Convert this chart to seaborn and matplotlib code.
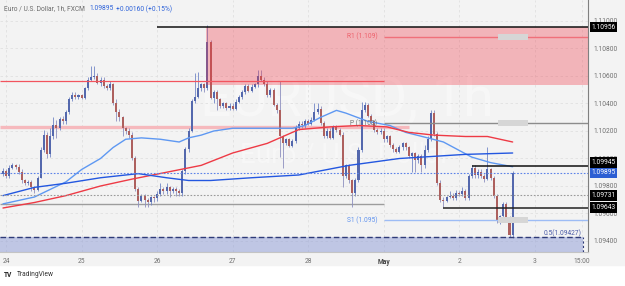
import matplotlib
matplotlib.use("Agg")
import matplotlib.pyplot as plt
import matplotlib.transforms as mtransforms
from matplotlib.patches import Rectangle
import seaborn as sns
import numpy as np
import pandas as pd

# EUR/USD 1h (FXCM), candles, in pips above 1.09000
# candle 0 = 23 Apr 23:00, one candle per hour
opens = [89, 91, 87, 93, 95, 94, 90, 84, 82, 83,
         79, 77, 86, 106, 117, 103, 116, 124, 122, 129,
         127, 134, 143, 146, 145, 146, 144, 151, 157, 159,
         160, 155, 157, 153, 151, 154, 140, 134, 130, 122,
         120, 117, 100, 78, 69, 73, 70, 68, 72, 71,
         74, 78, 76, 79, 76, 78, 76, 75, 91, 107,
         120, 142, 145, 151, 154, 151, 185, 144, 148, 143,
         138, 140, 137, 138, 136, 141, 145, 148, 153, 149,
         152, 154, 160, 157, 154, 146, 150, 139, 135, 116,
         111, 114, 109, 113, 122, 125, 124, 127, 125, 128,
         134, 136, 126, 116, 120, 115, 123, 121, 117, 87,
         95, 84, 75, 84, 106, 135, 139, 131, 127, 121,
         119, 120, 114, 116, 110, 107, 105, 108, 111, 108,
         102, 104, 99, 102, 95, 106, 114, 133, 118, 82,
         70, 69, 72, 73, 71, 75, 74, 76, 71, 87,
         93, 88, 90, 87, 85, 92, 86, 73, 55, 58,
         67, 56, 44]
highs = [93, 92, 95, 97, 96, 96, 92, 85, 84, 84,
         80, 87, 108, 121, 119, 122, 130, 128, 130, 131,
         135, 145, 148, 148, 147, 147, 152, 159, 167, 167,
         162, 159, 159, 154, 156, 155, 143, 136, 131, 123,
         122, 119, 102, 79, 74, 74, 71, 73, 73, 76,
         82, 79, 82, 80, 79, 79, 78, 92, 108, 122,
         143, 162, 163, 155, 155, 197, 186, 150, 150, 144,
         141, 141, 140, 140, 143, 146, 150, 154, 154, 154,
         155, 164, 164, 159, 156, 151, 151, 140, 156, 117,
         115, 115, 114, 124, 127, 127, 129, 129, 130, 140,
         140, 138, 127, 122, 122, 124, 124, 122, 119, 96,
         96, 85, 86, 108, 141, 141, 140, 132, 128, 122,
         122, 122, 117, 117, 111, 108, 110, 112, 112, 109,
         105, 105, 103, 103, 110, 116, 135, 135, 119, 84,
         72, 73, 76, 75, 77, 76, 79, 78, 89, 95,
         95, 92, 92, 89, 108, 93, 87, 74, 59, 68,
         68, 58, 91]
lows = [87, 86, 86, 92, 92, 89, 82, 81, 81, 76,
        75, 76, 86, 105, 100, 101, 114, 115, 121, 125,
        125, 132, 142, 143, 143, 143, 143, 150, 156, 158,
        154, 153, 151, 150, 150, 139, 127, 127, 116, 118,
        115, 99, 76, 65, 68, 65, 65, 66, 68, 69,
        73, 74, 74, 72, 75, 73, 73, 73, 89, 105,
        119, 140, 144, 149, 148, 150, 143, 140, 135, 137,
        137, 135, 135, 135, 135, 140, 143, 147, 148, 148,
        151, 152, 156, 153, 145, 145, 138, 133, 101, 93,
        110, 108, 108, 111, 121, 122, 122, 124, 124, 127,
        132, 124, 115, 115, 114, 114, 119, 116, 79, 86,
        82, 65, 73, 83, 105, 134, 130, 125, 119, 118,
        118, 112, 112, 108, 105, 104, 104, 106, 106, 100,
        90, 90, 97, 90, 93, 105, 113, 116, 81, 68,
        65, 68, 71, 70, 70, 73, 73, 70, 70, 86,
        86, 86, 86, 83, 84, 84, 71, 53, 52, 56,
        55, 43, 42]
closes = [91, 87, 93, 95, 94, 90, 84, 82, 83, 79,
          77, 86, 106, 117, 103, 116, 124, 122, 129, 127,
          134, 143, 146, 145, 146, 144, 151, 157, 159, 160,
          155, 157, 153, 151, 154, 140, 134, 130, 122, 120,
          117, 100, 78, 69, 73, 70, 68, 72, 71, 74,
          78, 76, 79, 76, 78, 76, 75, 91, 107, 120,
          142, 145, 151, 154, 151, 185, 144, 148, 143, 138,
          140, 137, 138, 136, 141, 145, 148, 153, 149, 152,
          154, 160, 157, 154, 146, 150, 139, 135, 116, 111,
          114, 109, 113, 122, 125, 124, 127, 125, 128, 134,
          136, 126, 116, 120, 115, 123, 121, 117, 87, 95,
          84, 75, 84, 106, 135, 139, 131, 127, 121, 119,
          120, 114, 116, 110, 107, 105, 108, 111, 108, 102,
          104, 99, 102, 95, 106, 114, 133, 118, 82, 70,
          69, 72, 73, 71, 75, 74, 76, 71, 87, 93,
          88, 90, 87, 85, 92, 86, 73, 55, 58, 67,
          56, 44, 89.5]

# moving averages, read at a few candles (candle index, pips above 1.09000)
fast_idx = [0, 10, 20, 25, 31, 35, 39, 44, 50, 56, 59, 63, 67, 73, 84, 92, 96, 101,
            106, 109, 116, 123, 128, 135, 140, 149, 155, 162]
fast_ma = [67, 72, 83, 92, 100, 108, 114, 115, 114, 112, 115, 117, 120, 122, 122, 122,
           124, 130, 135, 133, 127, 124, 119, 115, 112, 101, 97, 94]
mid_idx = [0, 10, 20, 31, 41, 52, 63, 73, 84, 94, 104, 113, 122, 129, 137, 147, 154, 162]
mid_ma = [64, 68, 73, 80, 85, 90, 95, 104, 111, 121, 123, 124, 123, 119, 117, 116, 116, 112]
slow_idx = [0, 10, 20, 31, 43, 52, 59, 66, 79, 94, 110, 126, 147, 162]
slow_ma = [73, 79, 82, 86, 89, 86, 84, 84, 86, 88, 95, 100, 103, 104]

day_ticks = [1, 25, 49, 73, 97, 121, 145, 169, 184]
day_labels = ["24", "25", "26", "27", "28", "May", "2", "3", "15:00"]
price_ticks = [1.094, 1.096, 1.098, 1.100, 1.102, 1.104, 1.106, 1.108, 1.110]

# drawn levels
res_top, res_bottom = 1.10956, 1.10535
r1, pivot, s1 = 1.10885, 1.10258, 1.09553
red_left, pink_left, grey_left = 1.10566, 1.10229, 1.09667
res_black, high_black, last_price, dotted_grey, low_black = 1.10956, 1.09945, 1.09895, 1.09731, 1.09643
fib_half = 1.09427
axis_labels = [("1.10956", res_black, "black", 0),
               ("1.09945", high_black, "black", 2.5),
               ("1.09895", last_price, "#2d5fd3", 0),
               ("1.09731", dotted_grey, "black", 0),
               ("1.09643", low_black, "black", 0)]


def to_price(p):
    return 1.09 + np.asarray(p, dtype=float) / 10000


sns.set_theme(style="white")
plt.rcParams["font.family"] = ["Roboto", "DejaVu Sans"]

BG = "#f3f3f3"
BULL, BEAR = "#5468ad", "#ad605e"
WICK_UP, WICK_DN = "#7186c6", "#8d8fbf"
FS = 4.8

fig = plt.figure(figsize=(6.25, 2.86), dpi=100, facecolor="white")
fig.patches.append(Rectangle((0, 21 / 286), 1, 265 / 286, transform=fig.transFigure,
                             color=BG, zorder=-5))
ax = fig.add_axes([0, 34 / 286, 588 / 625, 252 / 286])
ax.set_facecolor(BG)

xmin, xmax = -0.95, 185.95
ymin, ymax = 1.09320, 1.111527

# watermark
ax.text(347 / 588, 1 - 100 / 252, "EURUSD, 1h", transform=ax.transAxes, fontsize=40,
        color="white", alpha=0.35, ha="center", va="center", zorder=0.5)
ax.text(345 / 588, 1 - 155 / 252, "Euro / U.S. Dollar", transform=ax.transAxes, fontsize=20,
        color="white", alpha=0.35, ha="center", va="center", zorder=0.5)

# candles
df = pd.DataFrame({"open": to_price(opens), "high": to_price(highs),
                   "low": to_price(lows), "close": to_price(closes)})
df["i"] = np.arange(len(df))
up = df["close"] >= df["open"]
ax.vlines(df["i"], df["low"], df["high"], colors=np.where(up, WICK_UP, WICK_DN),
          lw=0.6, zorder=3)
for mask, col in [(up, BULL), (~up, BEAR)]:
    d = df[mask]
    h = np.maximum((d["close"] - d["open"]).abs(), 0.00004)
    ax.bar(d["i"], h, bottom=np.minimum(d["open"], d["close"]), width=0.64,
           color=col, linewidth=0, zorder=4)

# moving averages
ma = pd.concat([
    pd.DataFrame({"i": fast_idx, "v": to_price(fast_ma), "ma": "fast"}),
    pd.DataFrame({"i": mid_idx, "v": to_price(mid_ma), "ma": "mid"}),
    pd.DataFrame({"i": slow_idx, "v": to_price(slow_ma), "ma": "slow"}),
])
sns.lineplot(data=ma, x="i", y="v", hue="ma", legend=False, ax=ax, linewidth=1.0,
             palette={"fast": "#5e98f2", "mid": "#ee3a45", "slow": "#2357e0"}, zorder=5)

# resistance zone and levels
ax.add_patch(Rectangle((64.5, res_bottom), xmax - 64.5, res_top - res_bottom,
                       facecolor="#f23645", alpha=0.33, linewidth=0, zorder=6))
ax.hlines(res_black, 49, xmax, color="#111111", lw=1.1, zorder=7)
ax.hlines(r1, 121, xmax, color="#f0707a", lw=1.0, zorder=7)
ax.hlines(red_left, xmin, 121, color="#f2545e", lw=0.9, zorder=7)
ax.hlines(pink_left, xmin, 129, color="#f6b9bd", lw=2.4, zorder=2)
ax.hlines(pivot, 121, xmax, color="#8c8c8c", lw=1.0, zorder=7)
ax.hlines(grey_left, xmin, 121, color="#9d9d9d", lw=1.0, zorder=2)
ax.hlines(s1, 121, xmax, color="#9dbcf5", lw=1.0, zorder=7)
ax.hlines(last_price, xmin, xmax, color="#5b82e8", lw=0.8, ls=(0, (1.5, 1.5)), zorder=7)
ax.hlines(dotted_grey, xmin, xmax, color="#9a9a9a", lw=0.8, ls=(0, (1.5, 1.5)), zorder=7)
ax.hlines(high_black, 149, xmax, color="#111111", lw=1.1, zorder=7)
ax.hlines(low_black, 140, xmax, color="#222222", lw=1.1, zorder=7)

ax.text(119, r1, "R1 (1.109)", color="#ee5f6a", fontsize=FS, ha="right", va="center", zorder=8)
ax.text(119, pivot, "P (1.103)", color="#707070", fontsize=FS, ha="right", va="center", zorder=8)
ax.text(119, s1, "S1 (1.095)", color="#5f92ef", fontsize=FS, ha="right", va="center", zorder=8)
for lvl in (r1, pivot, s1):
    ax.add_patch(Rectangle((157.5, lvl - 0.00022), 9.5, 0.00044, facecolor="#d6d6d6",
                           edgecolor="none", zorder=8))

# fib area at the bottom
ax.add_patch(Rectangle((xmin, ymin), 184.5 - xmin, fib_half - ymin, facecolor="#8c9ad6",
                       alpha=0.5, linewidth=0, zorder=6))
ax.hlines(fib_half, xmin, 184.5, color="#2f3b78", lw=1.0, ls=(0, (4, 2)), zorder=7)
ax.vlines(184.5, ymin, fib_half, color="#2f3b78", lw=0.8, ls=(0, (2, 2)), zorder=7)
ax.text(183.8, fib_half + 0.00003, "0.5(1.09427)", color="#4a5aa8", fontsize=FS,
        ha="right", va="bottom", zorder=8)

# axes
ax.set_xlim(xmin, xmax)
ax.set_ylim(ymin, ymax)
ax.set_xticks(day_ticks)
ax.set_xticklabels(day_labels)
ax.yaxis.tick_right()
ax.set_yticks(price_ticks)
ax.set_yticklabels([f"{p:.5f}" for p in price_ticks])
ax.tick_params(axis="both", length=0, labelsize=FS, labelcolor="#707070")
ax.tick_params(axis="y", pad=4)
ax.tick_params(axis="x", pad=4)
for lbl in ax.get_xticklabels():
    if lbl.get_text() == "May":
        lbl.set_fontweight("bold")
        lbl.set_color("#444444")
ax.grid(True, color="#e0e0e0", lw=0.6, ls=(0, (3, 3)))
ax.set_axisbelow(True)
for s in ["left", "top"]:
    ax.spines[s].set_visible(False)
ax.spines["right"].set_color("#808080")
ax.spines["right"].set_linewidth(0.8)
ax.spines["bottom"].set_color("#c4c4c4")
ax.spines["bottom"].set_linewidth(0.8)
ax.set_xlabel("")
ax.set_ylabel("")

trans = mtransforms.blended_transform_factory(ax.transAxes, ax.transData)
for text, val, col, dy in axis_labels:
    t = mtransforms.offset_copy(trans, fig=fig, x=0, y=dy, units="points")
    ax.text(1.006, val, text, transform=t, color="white", fontsize=FS, va="center",
            ha="left", clip_on=False, zorder=20,
            bbox=dict(boxstyle="square,pad=0.25", fc=col, ec="none"))

# header and footer
fig.text(4 / 625, 1 - 9 / 286, "Euro / U.S. Dollar, 1h, FXCM", fontsize=FS,
         color="#6a6a6a", va="center")
fig.text(89 / 625, 1 - 9 / 286, "1.09895", fontsize=FS, color="#2d62d9", va="center")
fig.text(116 / 625, 1 - 9 / 286, "+0.00160 (+0.15%)", fontsize=FS, color="#2d62d9",
         va="center")
fig.text(4 / 625, 11 / 286, "TV", fontsize=FS, color="#222222", fontweight="bold",
         va="center")
fig.text(17 / 625, 11 / 286, "TradingView", fontsize=FS, color="#333333", va="center")

fig.savefig("out.png", dpi=100, facecolor=fig.get_facecolor())
